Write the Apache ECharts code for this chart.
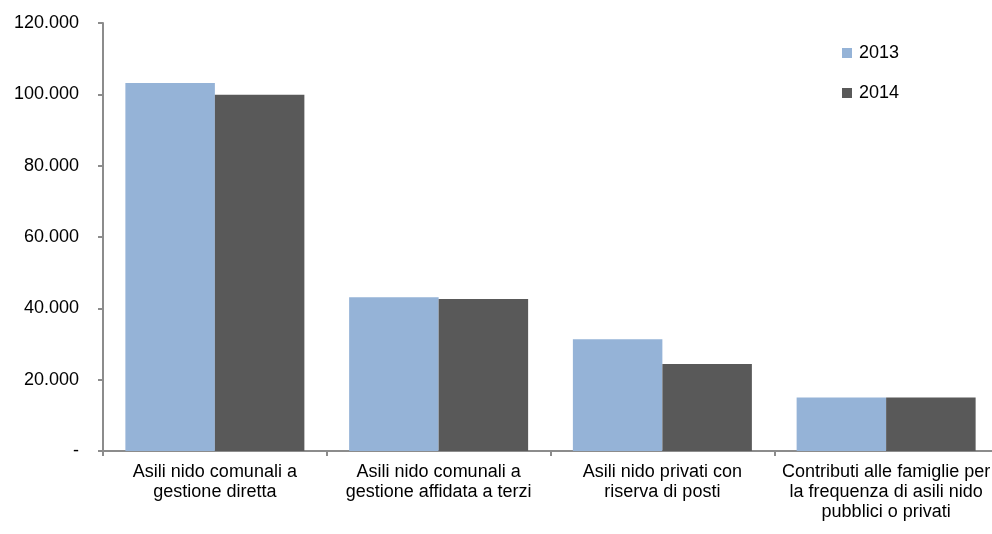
<!DOCTYPE html>
<html>
<head>
<meta charset="utf-8">
<script src="https://cdn.jsdelivr.net/npm/echarts@6/dist/echarts.min.js"></script>
<style>
html,body{margin:0;padding:0;background:#fff;}
#chart{width:992px;height:534px;}
</style>
</head>
<body>
<div id="chart"></div>
<script>
var categories = [
  "Asili nido comunali a\ngestione diretta",
  "Asili nido comunali a\ngestione affidata a terzi",
  "Asili nido privati con\nriserva di posti",
  "Contributi alle famiglie per\nla frequenza di asili nido\npubblici o privati"
];
var seriesNames = ["2013", "2014"];
var values2013 = [103200, 43100, 31300, 15000];
var values2014 = [99900, 42600, 24400, 15000];
var yTicks = { min: 0, max: 120000, interval: 20000 };

function fmt(v) {
  if (v === 0) return "-";
  return String(v).replace(/\B(?=(\d{3})+(?!\d))/g, ".");
}

var chart = echarts.init(document.getElementById("chart"), null, { renderer: "canvas" });
var font = "Liberation Sans, Arial, sans-serif";
chart.setOption({
  animation: false,
  textStyle: { fontFamily: font },
  grid: { left: 103, width: 895, top: 23, bottom: 83, containLabel: false, outerBoundsMode: "none" },
  legend: {
    orient: "vertical",
    left: 842,
    top: 44,
    padding: 0,
    itemWidth: 10,
    itemHeight: 10,
    itemGap: 22,
    icon: "rect",
    textStyle: { fontFamily: font, fontSize: 18, color: "#000", padding: [0, 0, 0, 2] },
    data: seriesNames
  },
  xAxis: {
    type: "category",
    data: categories,
    axisLine: { lineStyle: { color: "#8c8c8c", width: 2 } },
    axisTick: { show: true, length: 5, lineStyle: { color: "#8c8c8c", width: 2 } },
    axisLabel: { interval: 0, fontFamily: font, fontSize: 18, color: "#000", lineHeight: 20, margin: 11 }
  },
  yAxis: {
    type: "value",
    min: yTicks.min,
    max: yTicks.max,
    interval: yTicks.interval,
    splitLine: { show: false },
    axisLine: { show: true, lineStyle: { color: "#8c8c8c", width: 2 } },
    axisTick: { show: true, length: 5, lineStyle: { color: "#8c8c8c", width: 2 } },
    axisLabel: { fontFamily: font, fontSize: 18, color: "#000", margin: 24, formatter: fmt }
  },
  series: [
    { name: seriesNames[0], type: "bar", data: values2013, barGap: "0%", barCategoryGap: "20%",
      itemStyle: { color: "#95b3d7" } },
    { name: seriesNames[1], type: "bar", data: values2014, barGap: "0%", barCategoryGap: "20%",
      itemStyle: { color: "#595959" } }
  ]
});
</script>
</body>
</html>
